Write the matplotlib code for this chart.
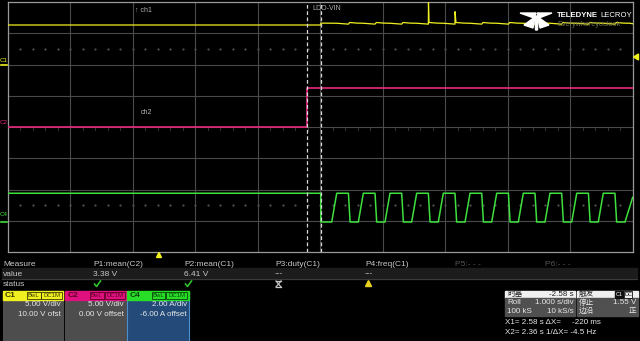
import matplotlib
matplotlib.use("Agg")
import matplotlib.pyplot as plt
from matplotlib.patches import Rectangle, Polygon

plt.rcParams['font.family'] = ['Liberation Sans', 'Noto Sans CJK SC', 'DejaVu Sans']

# time axis (s): roll mode, 1 s/div, 10 div on screen
t_left = -2.42
t_right = 7.58
cursor_x1 = 2.586
cursor_x2 = 2.36

# channel scale (per div) and offset
c1_scale, c1_offset = 5.0, 10.0
c2_scale, c2_offset = 5.0, 0.0
c4_scale, c4_offset = 2.0, -6.0

# C1 (V), LDO-VIN
c1_t = [-2.42, 2.586, 2.59, 2.842, 3.029, 3.049, 3.169, 3.268, 3.455, 3.475, 3.595,
        3.695, 3.882, 3.902, 4.022, 4.122, 4.309, 4.311, 4.32, 4.45, 4.548, 4.735,
        4.737, 4.75, 4.88, 4.976, 5.163, 5.183, 5.303, 5.403, 5.590, 5.610, 5.730,
        5.829, 6.016, 6.036, 6.156, 6.256, 6.443, 6.463, 6.583, 6.684, 6.871, 6.891,
        7.011, 7.109, 7.296, 7.316, 7.436, 7.537, 7.58]
c1_v = [6.32, 6.32, 6.62, 6.6, 6.46, 6.72, 6.62, 6.6, 6.46, 6.72, 6.62,
        6.6, 6.46, 6.72, 6.62, 6.6, 6.46, 9.9, 6.72, 6.62, 6.6, 6.46,
        8.45, 6.72, 6.62, 6.6, 6.46, 6.72, 6.62, 6.6, 6.46, 6.72, 6.62,
        6.6, 6.46, 6.72, 6.62, 6.6, 6.46, 6.72, 6.62, 6.6, 6.46, 6.72,
        6.62, 6.6, 6.46, 6.72, 6.62, 6.6, 6.52]

# C2 (V)
c2_t = [-2.42, 2.366, 2.366, 7.58]
c2_v = [0.0, 0.0, 6.29, 6.29]

# C4 (A)
c4_t = [-2.42, 2.586, 2.588,
        2.762, 2.842, 3.029, 3.056,
        3.188, 3.268, 3.455, 3.482,
        3.615, 3.695, 3.882, 3.909,
        4.042, 4.122, 4.309, 4.336,
        4.468, 4.548, 4.735, 4.762,
        4.896, 4.976, 5.163, 5.190,
        5.323, 5.403, 5.590, 5.617,
        5.749, 5.829, 6.016, 6.043,
        6.176, 6.256, 6.443, 6.470,
        6.604, 6.684, 6.871, 6.898,
        7.029, 7.109, 7.296, 7.323,
        7.457, 7.58]
c4_v = [1.76, 1.76, -0.08,
        -0.08, 1.76, 1.76, -0.08,
        -0.08, 1.76, 1.76, -0.08,
        -0.08, 1.76, 1.76, -0.08,
        -0.08, 1.76, 1.76, -0.08,
        -0.08, 1.76, 1.76, -0.08,
        -0.08, 1.76, 1.76, -0.08,
        -0.08, 1.76, 1.76, -0.08,
        -0.08, 1.76, 1.76, -0.08,
        -0.08, 1.76, 1.76, -0.08,
        -0.08, 1.76, 1.76, -0.08,
        -0.08, 1.76, 1.76, -0.08,
        -0.08, 1.5]

# measurement table
meas_names = ['P1:mean(C2)', 'P2:mean(C1)', 'P3:duty(C1)', 'P4:freq(C1)', 'P5:- - -', 'P6:- - -']
meas_values = ['3.38 V', '6.41 V', '---', '---', '', '']


def to_div(values, scale, offset):
    return [(v + offset) / scale for v in values]


fig = plt.figure(figsize=(6.4, 3.41), dpi=100, facecolor='black')

# +++ scope grid +++
ax = fig.add_axes([8/640, 1 - 252/341, 624.7/640, 250/341])
ax.set_facecolor('black')
ax.set_xlim(t_left, t_right)
ax.set_ylim(-4, 4)
ax.set_xticks([])
ax.set_yticks([])
for s in ax.spines.values():
    s.set_color('#9a9a9a')
    s.set_linewidth(0.9)

for k in range(1, 10):
    ax.axvline(t_left + k, color='#4a4a4a', linewidth=0.8, zorder=1)
for k in range(-3, 4):
    ax.axhline(k, color='#4a4a4a', linewidth=0.8, zorder=1)

# minor ticks on the center axis and dotted rows
for j in range(1, 50):
    xt = t_left + j * 0.2
    ax.plot([xt, xt], [-0.04, -0.1], color='#505050', linewidth=0.5, zorder=1)
    ax.plot([xt], [2.5], marker='s', markersize=0.6, color='#505050', zorder=1)
    ax.plot([xt], [-2.5], marker='s', markersize=0.6, color='#505050', zorder=1)

ax.plot(c4_t, to_div(c4_v, c4_scale, c4_offset), color='#3ee03e', linewidth=1.1, zorder=3)
ax.plot(c2_t, to_div(c2_v, c2_scale, c2_offset), color='#e8297d', linewidth=1.2, zorder=3)
ax.plot(c1_t, to_div(c1_v, c1_scale, c1_offset), color='#f0f020', linewidth=0.9, zorder=3)

ax.axvline(cursor_x2, color='#d8d8d8', linewidth=0.9, dashes=(3, 2), zorder=4)
ax.axvline(cursor_x1, color='#d8d8d8', linewidth=0.9, dashes=(3, 2), zorder=4)

# +++ overlay in pixel coordinates +++
ov = fig.add_axes([0, 0, 1, 1])
ov.set_xlim(0, 640)
ov.set_ylim(341, 0)
ov.axis('off')
ov.patch.set_alpha(0)

lab = '#c8c8c8'
ov.text(135, 10, '\u2191 ch1', color='#b0b0b0', fontsize=5, va='center')
ov.text(141, 113, 'ch2', color='#b0b0b0', fontsize=5, va='center')
ov.text(312, 9, 'LDO-VIN', color='#b0b0b0', fontsize=5, va='center')

# channel ground markers
ov.text(0, 60, 'C1', color='#f0f020', fontsize=4.5, va='center')
ov.plot([1, 7], [65.3, 65.3], color='#f0f020', linewidth=1.2)
ov.text(0, 123, 'C2', color='#e8297d', fontsize=4.5, va='center')
ov.text(0, 215, 'C4', color='#3ee03e', fontsize=4.5, va='center')
ov.plot([1, 7], [221.7, 221.7], color='#3ee03e', linewidth=1.2)

# trigger markers
ov.add_patch(Polygon([[633.5, 57], [638.5, 54], [638.5, 60]], closed=True, color='#f0f020'))
ov.add_patch(Polygon([[159, 252.5], [156.5, 257.5], [161.5, 257.5]], closed=True, color='#f0f020'))

# logo
ov.add_patch(Polygon([[520, 13], [536, 13], [534, 18]], closed=True, color='white'))
ov.add_patch(Polygon([[552, 13], [537, 13], [539, 18]], closed=True, color='white'))
ov.add_patch(Polygon([[524, 25], [535, 17], [533, 28]], closed=True, color='white'))
ov.add_patch(Polygon([[549, 25], [538, 17], [540, 28]], closed=True, color='white'))
ov.add_patch(Polygon([[535, 16], [538, 16], [537.5, 30], [535.5, 30]], closed=True, color='white'))
ov.text(557, 15.5, 'TELEDYNE', color='white', fontsize=5.6, fontweight='bold', va='center')
ov.text(632, 15.5, 'LECROY', color='white', fontsize=5.6, ha='right', va='center')
ov.text(557, 24, 'Everywhereyoulook', color='#7a7a50', fontsize=5.2, va='center')

# measurement table
ov.add_patch(Rectangle((2, 268), 635, 11, color='#1c1c1c'))
ov.plot([2, 637], [279, 279], color='#3a3a3a', linewidth=0.8)
ov.text(3, 264, 'Measure', color=lab, fontsize=6, va='center')
ov.text(3, 274, 'value', color=lab, fontsize=6, va='center')
ov.text(3, 284, 'status', color=lab, fontsize=6, va='center')
col_x = [93, 184, 275, 365, 455, 545]
for i, name in enumerate(meas_names):
    c = lab if i < 4 else '#555555'
    ov.text(col_x[i], 264, name, color=c, fontsize=6, va='center')
    ov.text(col_x[i], 274, meas_values[i], color=lab, fontsize=6, va='center')
for cx in col_x[:2]:
    ov.plot([cx + 1.5, cx + 3.5, cx + 7.5], [284, 286.5, 281], color='#30c030', linewidth=1.2)
ov.plot([276, 281], [281, 287], color=lab, linewidth=0.9)
ov.plot([276, 281], [287, 281], color=lab, linewidth=0.9)
ov.plot([276, 281], [281, 281], color=lab, linewidth=0.9)
ov.plot([276, 281], [287, 287], color=lab, linewidth=0.9)
ov.add_patch(Polygon([[368.5, 280.5], [365.5, 286.5], [371.5, 286.5]], closed=True, color='#e8d020'))

# channel descriptor boxes
boxes = [
    (3, 60, '#f0f020', '#4d4d4d', '#3a3a00', 'C1', '5.00 V/div', '10.00 V ofst', 27, 41.3),
    (65.3, 60.7, '#e0107f', '#4d4d4d', '#5a0025', 'C2', '5.00 V/div', '0.00 V offset', 90, 104.7),
    (127.3, 61.4, '#28dd28', '#234a78', '#0a400a', 'C4', '2.00 A/div', '-6.00 A offset', 151.7, 166.3),
]
for bx, bw, hc, bc, tc, name, l1, l2, bwl_x, dc_x in boxes:
    ov.add_patch(Rectangle((bx, 300), bw, 42, facecolor=bc, edgecolor='#4a90d0' if name == 'C4' else bc, linewidth=0.8))
    ov.add_patch(Rectangle((bx, 291), bw, 9, color=hc))
    ov.text(bx + 2, 295.5, name, color=tc, fontsize=6, fontweight='bold', va='center')
    ov.add_patch(Rectangle((bwl_x, 292), 13.5, 7, facecolor='none', edgecolor=tc, linewidth=0.6))
    ov.add_patch(Rectangle((dc_x, 292), 20.5, 7, facecolor='none', edgecolor=tc, linewidth=0.6))
    ov.text(bwl_x + 6.75, 295.5, 'BwL', color=tc, fontsize=4.3, ha='center', va='center')
    ov.text(dc_x + 10.25, 295.5, 'DC1M', color=tc, fontsize=4.3, ha='center', va='center')
    ov.text(bx + bw - 2, 304.5, l1, color='#e8e8e8', fontsize=5.8, ha='right', va='center')
    ov.text(bx + bw - 2, 314.5, l2, color='#e8e8e8', fontsize=5.8, ha='right', va='center')

# timebase and trigger boxes
ov.add_patch(Rectangle((505, 290.7), 70, 7.5, color='#f0f0f0'))
ov.add_patch(Rectangle((505, 298.2), 70, 17.8, color='#505050'))
ov.add_patch(Rectangle((577, 290.7), 61, 7.5, color='#f0f0f0'))
ov.add_patch(Rectangle((577, 298.2), 61, 17.8, color='#505050'))
ov.text(507, 294.5, '时基', color='#202020', fontsize=5.5, va='center')
ov.text(573.5, 294.5, '-2.58 s', color='#202020', fontsize=5.8, ha='right', va='center')
ov.text(507, 303, 'Roll', color='#e8e8e8', fontsize=5.8, va='center')
ov.text(573.5, 303, '1.000 s/div', color='#e8e8e8', fontsize=5.8, ha='right', va='center')
ov.text(507, 311.5, '100 kS', color='#e8e8e8', fontsize=5.8, va='center')
ov.text(573.5, 311.5, '10 kS/s', color='#e8e8e8', fontsize=5.8, ha='right', va='center')
ov.text(579, 294.5, '触发', color='#202020', fontsize=5.5, va='center')
ov.add_patch(Rectangle((615, 291.3), 8, 6.3, color='#101010'))
ov.add_patch(Rectangle((623.8, 291.3), 8.5, 6.3, facecolor='#f0f0f0', edgecolor='#101010', linewidth=0.6))
ov.text(619, 294.5, 'C1', color='white', fontsize=4, ha='center', va='center')
ov.text(628, 294.5, 'DC', color='#101010', fontsize=4, ha='center', va='center')
ov.text(579, 303, '停止', color='#e8e8e8', fontsize=5.5, va='center')
ov.text(636, 303, '1.55 V', color='#e8e8e8', fontsize=5.8, ha='right', va='center')
ov.text(579, 311.5, '边沿', color='#e8e8e8', fontsize=5.5, va='center')
ov.text(636, 311.5, '正', color='#e8e8e8', fontsize=5.5, ha='right', va='center')
ov.text(505, 322, 'X1= 2.58 s \u0394X=     -220 ms', color='#e8e8e8', fontsize=5.8, va='center')
ov.text(505, 333, 'X2= 2.36 s 1/\u0394X= -4.5 Hz', color='#e8e8e8', fontsize=5.8, va='center')

fig.savefig('out.png', dpi=100, facecolor='black')
